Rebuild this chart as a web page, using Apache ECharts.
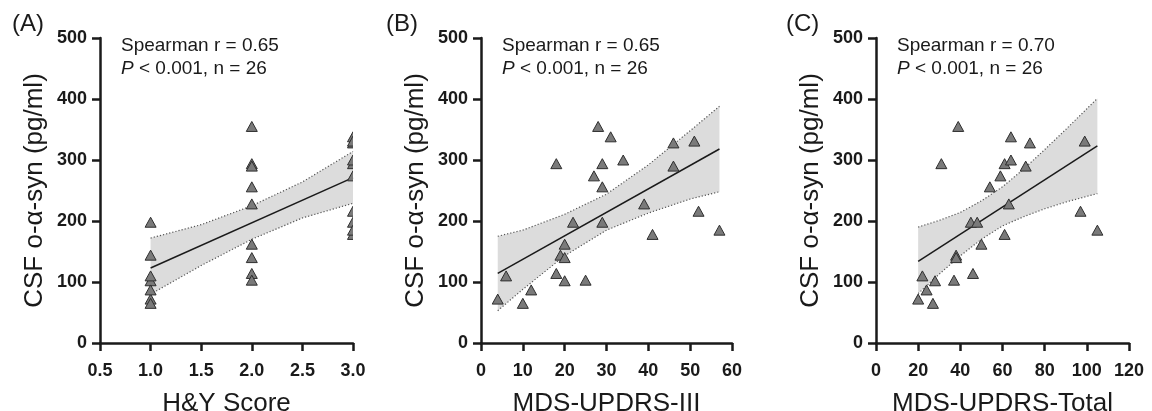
<!DOCTYPE html>
<html>
<head>
<meta charset="utf-8">
<title>CSF o-α-syn vs clinical scores</title>
<script src="https://cdn.jsdelivr.net/npm/echarts@6.0.0/dist/echarts.min.js"></script>
<style>
  html, body { margin: 0; padding: 0; background: #fff; }
  #chart { width: 1152px; height: 411px; }
</style>
</head>
<body>
<div id="chart"></div>
<script>
// one value per patient (n = 26), same order in every array
const csfAsyn    = [355, 338, 294, 294, 300, 274, 256, 328, 331, 290, 228, 198, 198, 178, 216, 185, 162, 144, 140, 114, 102, 103, 110, 72, 65, 87]
const hyScore    = [2, 3, 2, 3, 3, 3, 2, 3, 3, 2, 2, 1, 3, 3, 3, 3, 2, 1, 2, 2, 1, 2, 1, 1, 1, 1]
const updrsIII   = [28, 31, 18, 29, 34, 27, 29, 46, 51, 46, 39, 22, 29, 41, 52, 57, 20, 19, 20, 18, 20, 25, 6, 4, 10, 12]
const updrsTotal = [39, 64, 31, 61, 64, 59, 54, 73, 99, 71, 63, 45, 48, 61, 97, 105, 50, 38, 38, 46, 28, 37, 22, 20, 27, 24]

// fitted lines and 95% bands
const fitA = [[1, 123], [3, 271]]
const bandAx = [1, 1.5, 2, 2.5, 3]
const bandAup = [172, 194, 225, 264, 314]
const bandAlo = [80, 127, 170, 205, 229]

const fitB = [[4, 114], [57, 318]]
const bandBx = [4, 10, 20, 30, 40, 50, 57]
const bandBup = [175, 185, 211, 244, 292, 348, 388]
const bandBlo = [53, 88, 143, 185, 213, 236, 248]

const fitC = [[20, 134], [105, 323]]
const bandCx = [20, 30, 40, 50, 60, 70, 80, 90, 105]
const bandCup = [190, 201, 214, 233, 256, 285, 317, 350, 401]
const bandClo = [81, 113, 143, 170, 192, 207, 220, 231, 245]

const panelLabels = ['(A)', '(B)', '(C)']
const statLines = [
  ['Spearman r = 0.65', '{i|P} < 0.001, n = 26'],
  ['Spearman r = 0.65', '{i|P} < 0.001, n = 26'],
  ['Spearman r = 0.70', '{i|P} < 0.001, n = 26']
]
const yTitle = 'CSF o-α-syn (pg/ml)'

const FONT = '"Liberation Sans", Arial, Helvetica, sans-serif'
const INK = '#1a1a1a'

const chart = echarts.init(document.getElementById('chart'))

// fixed plot boxes; outerBoundsMode off so v6 doesn't shrink them
const grids = [
  { left: 100, top: 38, width: 253, height: 305, outerBoundsMode: 'none' },
  { left: 481, top: 38, width: 251, height: 305, outerBoundsMode: 'none' },
  { left: 876, top: 38, width: 253, height: 305, outerBoundsMode: 'none' }
]

function xAxisFor(i, min, max, step, name, digits) {
  return {
    type: 'value', gridIndex: i, min: min, max: max, interval: step,
    name: name, nameLocation: 'middle', nameGap: 48,
    nameTextStyle: { fontFamily: FONT, fontSize: 26, color: INK },
    axisLine: { show: true, onZero: false, lineStyle: { color: INK, width: 2.5 } },
    axisTick: { show: true, length: 8, lineStyle: { color: INK, width: 2.5 } },
    axisLabel: {
      margin: 19, fontFamily: FONT, fontSize: 18, fontWeight: 'bold', color: INK,
      formatter: v => v.toFixed(digits)
    },
    splitLine: { show: false }
  }
}

function yAxisFor(i) {
  return {
    type: 'value', gridIndex: i, min: 0, max: 500, interval: 100,
    name: yTitle, nameLocation: 'middle', nameGap: 52,
    nameTextStyle: { fontFamily: FONT, fontSize: 26, color: INK },
    axisLine: { show: true, onZero: false, lineStyle: { color: INK, width: 2.5 } },
    axisTick: { show: true, length: 8, lineStyle: { color: INK, width: 2.5 } },
    axisLabel: { margin: 13, fontFamily: FONT, fontSize: 18, fontWeight: 'bold', color: INK },
    splitLine: { show: false }
  }
}

function bandSeries(i, xs, up, lo) {
  return {
    type: 'custom', xAxisIndex: i, yAxisIndex: i, silent: true, z: 1,
    data: [[xs[0], lo[0]]],
    renderItem: function (params, api) {
      const pts = []
      xs.forEach((x, k) => pts.push(api.coord([x, up[k]])))
      for (let k = xs.length - 1; k >= 0; k--) pts.push(api.coord([xs[k], lo[k]]))
      return { type: 'polygon', shape: { points: pts }, style: { fill: '#dcdcdc', stroke: null } }
    }
  }
}

function edgeSeries(i, xs, ys) {
  return {
    type: 'line', xAxisIndex: i, yAxisIndex: i, silent: true, z: 2,
    data: xs.map((x, k) => [x, ys[k]]),
    symbol: 'none',
    lineStyle: { color: '#555', width: 1.2, type: [1.2, 2] }
  }
}

function fitSeries(i, pts) {
  return {
    type: 'line', xAxisIndex: i, yAxisIndex: i, silent: true, z: 3,
    data: pts, symbol: 'none',
    lineStyle: { color: INK, width: 1.5 }
  }
}

// triangles drawn as custom marks so they clip at the plot edge like the original
function pointSeries(i, xs) {
  return {
    type: 'custom', xAxisIndex: i, yAxisIndex: i, z: 4, clip: true,
    data: xs.map((x, k) => [x, csfAsyn[k]]),
    renderItem: function (params, api) {
      const p = api.coord([api.value(0), api.value(1)])
      const hw = 5.5, hh = 5
      return {
        type: 'polygon',
        shape: { points: [[p[0], p[1] - hh], [p[0] + hw, p[1] + hh], [p[0] - hw, p[1] + hh]] },
        style: { fill: '#7a7a7a', stroke: '#2e2e2e', lineWidth: 1 }
      }
    }
  }
}

const labelX = [12, 386, 786]
const graphic = []
grids.forEach((g, i) => {
  graphic.push({
    type: 'text', left: labelX[i], top: 12,
    style: { text: panelLabels[i], font: '24px ' + FONT, fill: INK }
  })
  graphic.push({
    type: 'text', x: g.left + 21, y: 46,
    style: {
      text: statLines[i][0], font: '19px ' + FONT, fill: INK,
      verticalAlign: 'middle', textVerticalAlign: 'middle'
    }
  })
  graphic.push({
    type: 'text', x: g.left + 21, y: 69,
    style: {
      text: statLines[i][1], font: '19px ' + FONT, fill: INK,
      verticalAlign: 'middle', textVerticalAlign: 'middle',
      rich: { i: { fontStyle: 'italic', fontFamily: FONT, fontSize: 19, fill: INK } }
    }
  })
})

const option = {
  animation: false,
  backgroundColor: '#fff',
  grid: grids,
  xAxis: [
    xAxisFor(0, 0.5, 3, 0.5, 'H&Y Score', 1),
    xAxisFor(1, 0, 60, 10, 'MDS-UPDRS-III', 0),
    xAxisFor(2, 0, 120, 20, 'MDS-UPDRS-Total', 0)
  ],
  yAxis: [yAxisFor(0), yAxisFor(1), yAxisFor(2)],
  graphic: graphic,
  series: [
    bandSeries(0, bandAx, bandAup, bandAlo),
    edgeSeries(0, bandAx, bandAup),
    edgeSeries(0, bandAx, bandAlo),
    fitSeries(0, fitA),
    pointSeries(0, hyScore),

    bandSeries(1, bandBx, bandBup, bandBlo),
    edgeSeries(1, bandBx, bandBup),
    edgeSeries(1, bandBx, bandBlo),
    fitSeries(1, fitB),
    pointSeries(1, updrsIII),

    bandSeries(2, bandCx, bandCup, bandClo),
    edgeSeries(2, bandCx, bandCup),
    edgeSeries(2, bandCx, bandClo),
    fitSeries(2, fitC),
    pointSeries(2, updrsTotal)
  ]
}

chart.setOption(option)
window.addEventListener('resize', () => chart.resize())
</script>
</body>
</html>
